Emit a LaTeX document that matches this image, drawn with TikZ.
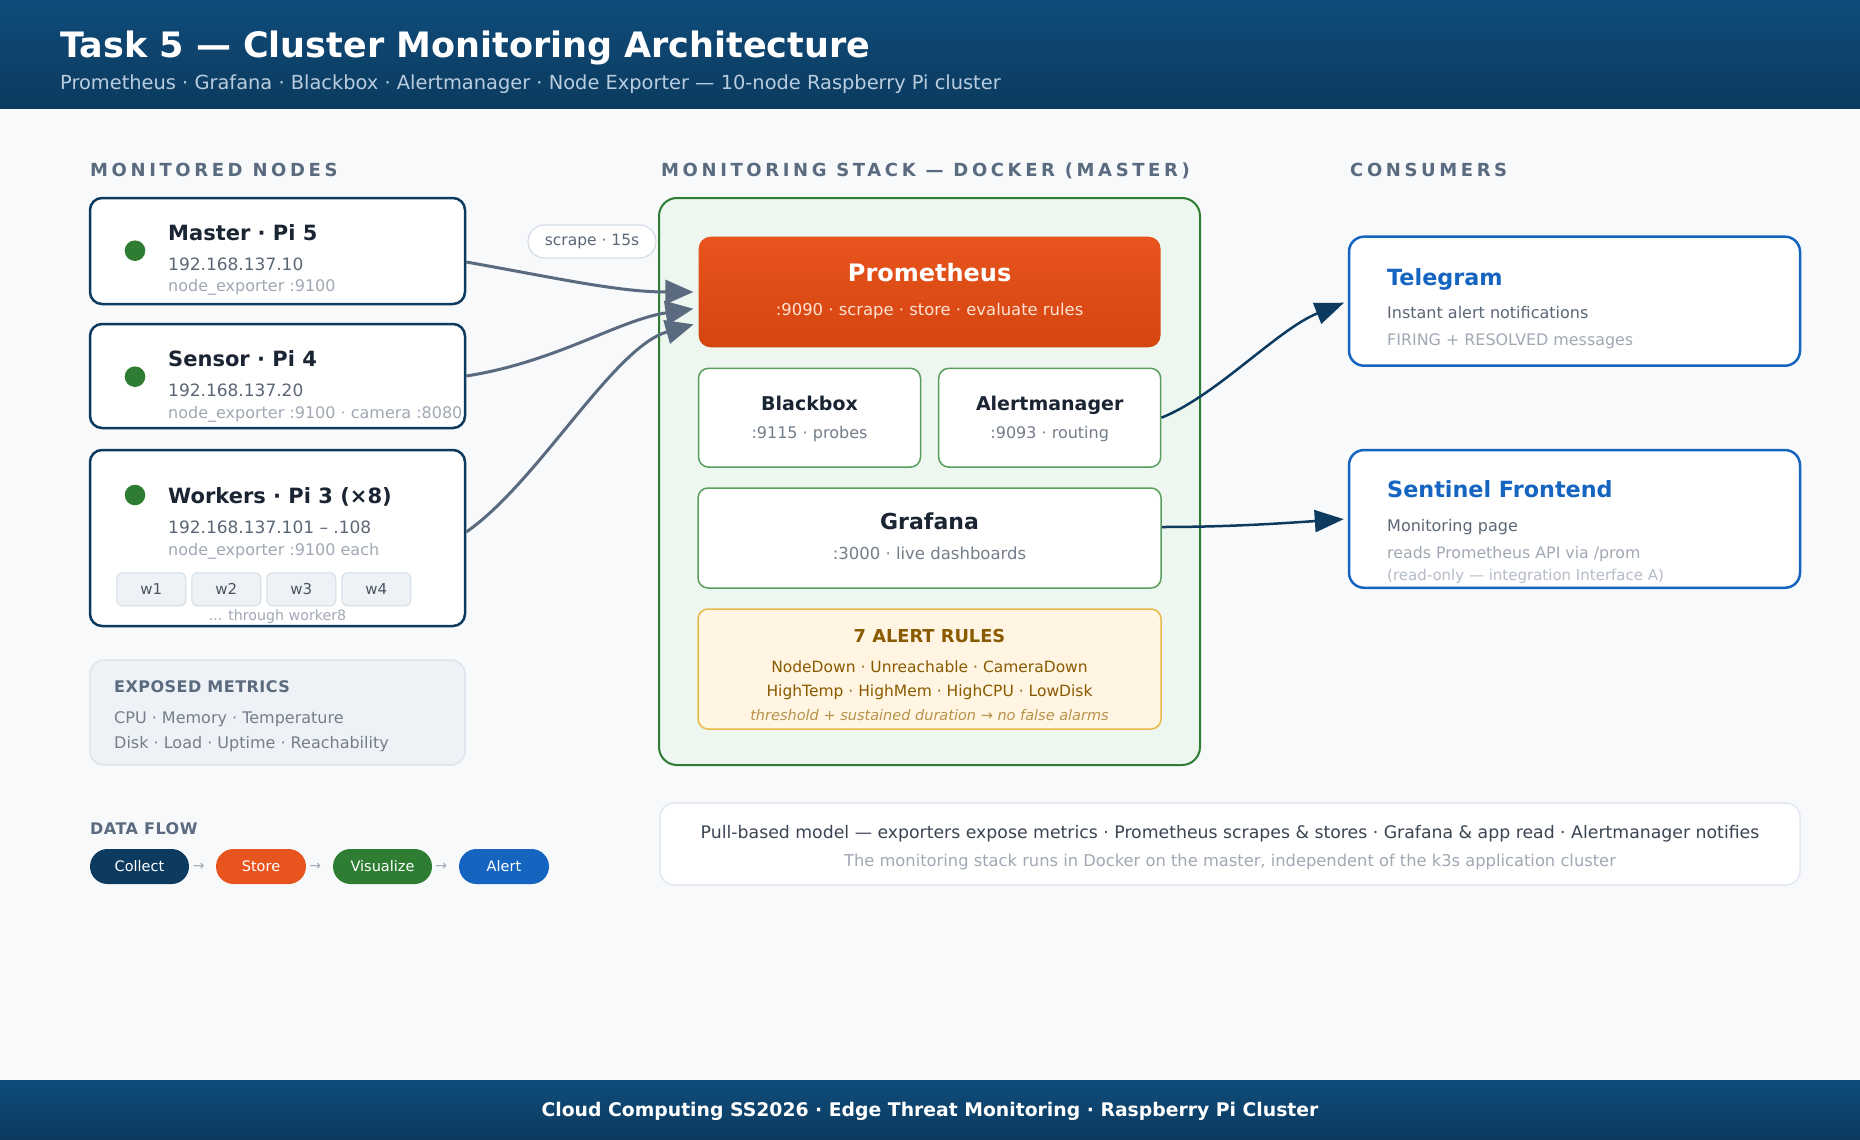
\documentclass[tikz,border=0pt]{standalone}
\usepackage{fontspec}
\setmainfont{DejaVu Sans}
\newfontfamily\headfont[LetterSpace=20]{DejaVu Sans Bold}
\newfontfamily\labelfont[LetterSpace=3]{DejaVu Sans Bold}
\usepackage{tikz}
\usetikzlibrary{arrows.meta,positioning,calc}
\definecolor{PageBg}{HTML}{F7F9FB}
\definecolor{HeadTop}{HTML}{0F4C7B}
\definecolor{HeadBot}{HTML}{0C3A5E}
\definecolor{SubC}{HTML}{B8CDE0}
\definecolor{HeadInk}{HTML}{5A6B7F}
\definecolor{InkC}{HTML}{1A2433}
\definecolor{MidC}{HTML}{5B6776}
\definecolor{LightC}{HTML}{A0A8B4}
\definecolor{FaintC}{HTML}{B4BCC8}
\definecolor{NavyC}{HTML}{0D3A5F}
\definecolor{GreenC}{HTML}{2E7D32}
\definecolor{StackFill}{HTML}{EDF6EF}
\definecolor{InnerGreen}{HTML}{5A9E5E}
\definecolor{PromTop}{HTML}{E8541E}
\definecolor{PromBot}{HTML}{D4450F}
\definecolor{PromSub}{HTML}{FFE2D4}
\definecolor{BlueC}{HTML}{1565C0}
\definecolor{RuleFill}{HTML}{FFF5E2}
\definecolor{RuleLine}{HTML}{E8B84A}
\definecolor{RuleInk}{HTML}{8A5A00}
\definecolor{RuleSoft}{HTML}{B8924A}
\definecolor{WFill}{HTML}{EEF2F6}
\definecolor{WLine}{HTML}{D3DCE5}
\definecolor{WInk}{HTML}{4A5563}
\definecolor{MetFill}{HTML}{EEF2F7}
\definecolor{MetLine}{HTML}{DDE4EC}
\definecolor{NoteLine}{HTML}{E2E8F0}
\definecolor{NoteInk}{HTML}{3A4553}
\definecolor{ArrowC}{HTML}{5A6B7F}
\newcommand{\fsz}[1]{\fontsize{#1}{#1}\selectfont}
\tikzset{
  txt/.style={inner sep=0pt,anchor=base west},
  ctxt/.style={inner sep=0pt,anchor=base},
  nodebox/.style={draw=NavyC,line width=2.5pt,fill=white,rounded corners=12pt,
                  minimum width=375pt},
  dot/.style={circle,fill=GreenC,minimum size=20.6pt,inner sep=0pt},
  ttl/.style={txt,font=\fsz{21}\bfseries,text=InkC},
  ipt/.style={txt,font=\fsz{17},text=MidC},
  expt/.style={txt,font=\fsz{16},text=LightC},
  wbox/.style={draw=WLine,line width=1pt,fill=WFill,rounded corners=6pt,
               minimum width=69pt,minimum height=33pt,inner sep=0pt,
               font=\fsz{15},text=WInk},
  inbox/.style={draw=InnerGreen,line width=1.5pt,fill=white,rounded corners=10pt},
  constbox/.style={draw=BlueC,line width=2.5pt,fill=white,rounded corners=15pt,
                   minimum width=451pt},
  pill/.style={rounded corners=17.5pt,minimum height=35pt,inner sep=0pt,
               font=\fsz{14.5},text=white},
  scrape/.style={-{Triangle[length=28pt,width=24pt]},line width=3pt,ArrowC,shorten >=5pt},
  notify/.style={-{Triangle[length=29pt,width=22pt]},line width=2.5pt,NavyC,shorten >=4pt},
}

\begin{document}
\begin{tikzpicture}[x=1pt,y=-1pt]
  \useasboundingbox (0,0) rectangle (1860,1140);
  \fill[PageBg] (0,0) rectangle (1860,1140);
  \shade[top color=HeadTop,bottom color=HeadBot] (0,0) rectangle (1860,108);
  \shade[top color=HeadTop,bottom color=HeadBot] (0,1080) rectangle (1860,1140);
  \node[txt,font=\fsz{35}\bfseries,text=white] (title) at (60,57.7)
    {Task 5 — Cluster Monitoring Architecture};
  \node[txt,font=\fsz{19.4},text=SubC] (subtitle) at (60,89)
    {Prometheus · Grafana · Blackbox · Alertmanager · Node Exporter — 10-node Raspberry Pi cluster};
  \node[ctxt,font=\fsz{18.8}\bfseries,text=white] (footer) at (930,1116)
    {Cloud Computing SS2026 · Edge Threat Monitoring · Raspberry Pi Cluster};

  % section headings
  \node[txt,font=\headfont\fsz{18},text=HeadInk] (hNodes) at (90,176.7) {MONITORED NODES};
  \node[txt,font=\headfont\fsz{18},text=HeadInk] (hStack) at (661,176.7) {MONITORING STACK — DOCKER (MASTER)};
  \node[txt,font=\headfont\fsz{18},text=HeadInk] (hCons) at (1350,176.7) {CONSUMERS};

  % monitored nodes
  \node[nodebox,minimum height=106pt] (master) at (277.5,251) {};
  \node[nodebox,minimum height=104pt] (sensor) at (277.5,376) {};
  \node[nodebox,minimum height=176pt] (workers) at (277.5,538) {};
  \node[dot] (masterDot) at (135,250.7) {};
  \node[dot] (sensorDot) at (135,376.7) {};
  \node[dot] (workersDot) at (135,495) {};
  \node[ttl] (masterT) at (168,240) {Master · Pi 5};
  \node[ipt] (masterIP) at (168,270.7) {192.168.137.10};
  \node[expt] (masterExp) at (168,291.7) {node\_exporter :9100};
  \node[ttl] (sensorT) at (168,366) {Sensor · Pi 4};
  \node[ipt] (sensorIP) at (168,396.7) {192.168.137.20};
  \node[expt] (sensorExp) at (168,418) {node\_exporter :9100 · camera :8080};
  \node[ttl] (workersT) at (168,503) {Workers · Pi 3 (×8)};
  \node[ipt] (workersIP) at (168,533) {192.168.137.101 – .108};
  \node[expt] (workersExp) at (168,555) {node\_exporter :9100 each};
  \foreach \i in {1,...,4}
    \node[wbox] (w\i) at (76.3+75*\i,589.3) {w\i};
  \node[ctxt,font=\fsz{14.2},text=LightC] (wMore) at (277.5,620) {... through worker8};

  % exposed metrics
  \node[draw=MetLine,line width=1.5pt,fill=MetFill,rounded corners=14pt,
        minimum width=375pt,minimum height=105pt] (metrics) at (277.5,712.5) {};
  \node[txt,font=\labelfont\fsz{16},text=HeadInk] (metricsT) at (114,692.7) {EXPOSED METRICS};
  \node[txt,font=\fsz{16},text=MidC!85!white] (metricsA) at (114,723) {CPU · Memory · Temperature};
  \node[txt,font=\fsz{16},text=MidC!85!white] (metricsB) at (114,748.7) {Disk · Load · Uptime · Reachability};

  % data flow
  \node[txt,font=\labelfont\fsz{16},text=HeadInk] (flowT) at (90,834) {DATA FLOW};
  \node[pill,fill=NavyC,minimum width=99pt] (collect) at (139.5,866.5) {Collect};
  \node[pill,fill=PromTop,minimum width=90pt] (store) at (261,866.5) {Store};
  \node[pill,fill=GreenC,minimum width=99pt] (visual) at (382.5,866.5) {Visualize};
  \node[pill,fill=BlueC,minimum width=90pt] (alert) at (504,866.5) {Alert};
  \node[font=\fsz{14},text=LightC,inner sep=0pt] (arA) at (198.7,867) {→};
  \node[font=\fsz{14},text=LightC,inner sep=0pt] (arB) at (315.3,867) {→};
  \node[font=\fsz{14},text=LightC,inner sep=0pt] (arC) at (441.3,867) {→};

  % monitoring stack
  \node[draw=GreenC,line width=2pt,fill=StackFill,rounded corners=18pt,
        minimum width=541pt,minimum height=567pt] (stack) at (929.5,481.5) {};
  \node[top color=PromTop,bottom color=PromBot,rounded corners=12pt,
        minimum width=462pt,minimum height=110.6pt] (prom) at (929.6,292) {};
  \node[ctxt,font=\fsz{24}\bfseries,text=white] (promT) at (929.6,281.7) {Prometheus};
  \node[ctxt,font=\fsz{16.4},text=PromSub] (promS) at (929.6,315) {:9090 · scrape · store · evaluate rules};
  \node[inbox,minimum width=222pt,minimum height=98.7pt] (bbox) at (809.5,417.7) {};
  \node[ctxt,font=\fsz{19}\bfseries,text=InkC] (bboxT) at (809.5,410) {Blackbox};
  \node[ctxt,font=\fsz{16},text=MidC!85!white] (bboxS) at (809.5,438) {:9115 · probes};
  \node[inbox,minimum width=222pt,minimum height=98.7pt] (amgr) at (1049.7,417.7) {};
  \node[ctxt,font=\fsz{19}\bfseries,text=InkC] (amgrT) at (1049.7,410) {Alertmanager};
  \node[ctxt,font=\fsz{16},text=MidC!85!white] (amgrS) at (1049.7,438) {:9093 · routing};
  \node[inbox,minimum width=463pt,minimum height=100pt] (grafana) at (929.5,538) {};
  \node[ctxt,font=\fsz{22}\bfseries,text=InkC] (grafanaT) at (929.5,529) {Grafana};
  \node[ctxt,font=\fsz{16.5},text=MidC!85!white] (grafanaS) at (929.5,559) {:3000 · live dashboards};
  \node[draw=RuleLine,line width=1.5pt,fill=RuleFill,rounded corners=10pt,
        minimum width=463pt,minimum height=120pt] (rules) at (929.5,669) {};
  \node[ctxt,font=\fsz{17.8}\bfseries,text=RuleInk] (rulesT) at (929.5,642) {7 ALERT RULES};
  \node[ctxt,font=\fsz{15.5},text=RuleInk] (rulesA) at (929.5,672) {NodeDown · Unreachable · CameraDown};
  \node[ctxt,font=\fsz{15.5},text=RuleInk] (rulesB) at (929.5,696) {HighTemp · HighMem · HighCPU · LowDisk};
  \node[ctxt,font=\fsz{14.5}\itshape,text=RuleSoft] (rulesC) at (929.5,720) {threshold + sustained duration → no false alarms};

  % scrape label
  \node[draw=WLine,line width=1.2pt,fill=white,rounded corners=16.5pt,minimum width=128pt,
        minimum height=33pt,inner sep=0pt,font=\fsz{15.5},text=MidC] (scrapeL) at (592,241.5) {scrape · 15s};

  % consumers
  \node[constbox,minimum height=129pt] (telegram) at (1574.5,301.2) {};
  \node[txt,font=\fsz{22.3}\bfseries,text=BlueC] (telegramT) at (1387,285) {Telegram};
  \node[txt,font=\fsz{16},text=MidC] (telegramA) at (1387,318) {Instant alert notifications};
  \node[txt,font=\fsz{15.9},text=LightC] (telegramB) at (1387,345) {FIRING + RESOLVED messages};
  \node[constbox,minimum height=137.7pt] (sentinel) at (1574.5,518.9) {};
  \node[txt,font=\fsz{22.3}\bfseries,text=BlueC] (sentinelT) at (1387,497.7) {Sentinel Frontend};
  \node[txt,font=\fsz{16},text=MidC] (sentinelA) at (1387,531.7) {Monitoring page};
  \node[txt,font=\fsz{15.8},text=LightC] (sentinelB) at (1387,558) {reads Prometheus API via /prom};
  \node[txt,font=\fsz{15},text=FaintC] (sentinelC) at (1387,580.7) {(read-only — integration Interface A)};

  % note
  \node[draw=NoteLine,line width=1.5pt,fill=white,rounded corners=14pt,
        minimum width=1140pt,minimum height=82pt] (note) at (1230,844) {};
  \node[ctxt,font=\fsz{17.3},text=NoteInk] (noteA) at (1230,838.3)
    {Pull-based model — exporters expose metrics · Prometheus scrapes \& stores · Grafana \& app read · Alertmanager notifies};
  \node[ctxt,font=\fsz{16.3},text=LightC] (noteB) at (1230,866.7)
    {The monitoring stack runs in Docker on the master, independent of the k3s application cluster};

  % scrape connectors
  \draw[scrape] ([yshift=-11pt]master.east) .. controls +(90,16) and +(-80,0) .. (prom.west);
  \draw[scrape] (sensor.east) .. controls +(90,-14) and +(-80,12) .. ([yshift=-16pt]prom.west);
  \draw[scrape] ([yshift=6pt]workers.east) .. controls +(72,-50) and +(-85,24) .. ([yshift=-31pt]prom.west);
  % notifications
  \draw[notify] (amgr.east) .. controls +(55,-22) and +(-70,28) .. (telegram.west);
  \draw[notify] ([yshift=11pt]grafana.east) .. controls +(70,0) and +(-60,4) .. (sentinel.west);
\end{tikzpicture}
\end{document}
